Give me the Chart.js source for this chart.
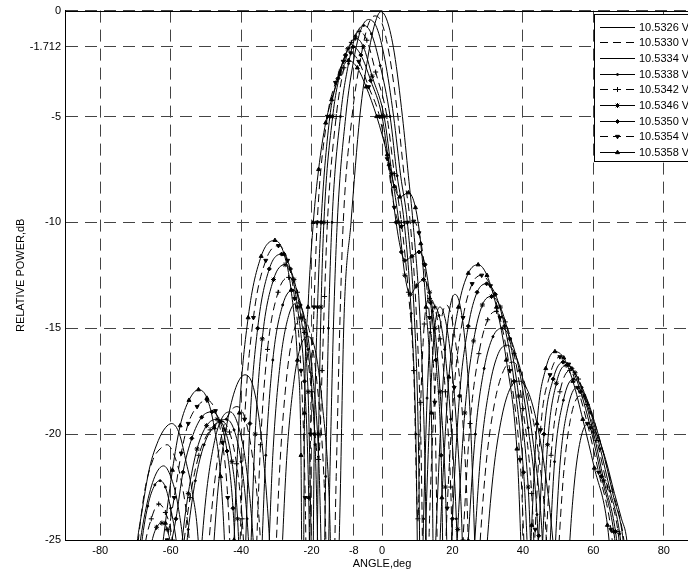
<!DOCTYPE html>
<html><head><meta charset="utf-8">
<script src="https://cdn.jsdelivr.net/npm/chart.js@4.4.1/dist/chart.umd.min.js"></script>
<style>html,body{margin:0;padding:0;overflow:hidden;background:#fff;width:688px;height:574px}canvas{display:block}</style>
</head><body>
<canvas id="c" width="712" height="574"></canvas>
<script>
const seriesLabels = ['10.5326 V','10.5330 V','10.5334 V','10.5338 V','10.5342 V','10.5346 V','10.5350 V','10.5354 V','10.5358 V'];
const xTicks = [-80,-60,-40,-20,-8,0,20,40,60,80];
const yTicks = [0,-1.712,-5,-10,-15,-20,-25];

const s1 = [[-72,-32],[-70,-26],[-68,-23.5],[-66,-21.6],[-63.5,-20.3],[-61.5,-19.7],[-59.7,-19.5],[-57.5,-20.0],[-55.5,-21.4],[-54,-22.6],[-52,-25.5],[-50.5,-32],
[-48.5,-27],[-46.5,-22.5],[-44,-19.5],[-41.5,-17.8],[-38.9,-17.2],[-36.5,-17.8],[-34.5,-19.8],[-32.5,-23.5],[-31,-28],[-30,-32],
[-28.5,-26],[-27,-21],[-25,-17.5],[-23,-15.8],[-21,-15.4],[-19,-16],[-17,-18.5],[-15,-23],[-13.5,-32],
[-12,-24],[-10.8,-14.6],[-8.8,-10],[-6.3,-5],[-4,-2.2],[-2,-0.6],[-0.3,-0.05],[1.5,-0.5],[3.5,-2.0],[5.8,-5],[7.5,-7.8],[8.8,-10],[10.8,-14.6],[12,-20],[13.5,-32],
[15.5,-24],[17,-18.5],[18.5,-15],[19.7,-13.7],[20.7,-13.4],[22,-13.8],[23.5,-15.5],[25,-19],[26.3,-25],[27.5,-32],
[29.5,-26],[31.5,-22],[34,-19.2],[36.5,-17.8],[39,-17.5],[41.5,-18],[44,-19.5],[46.5,-22],[48.5,-25],[51.5,-32],
[53,-26],[54.5,-22.5],[56.3,-20.3],[58.5,-19.5],[61,-20],[63.5,-21.2],[66,-22.8],[68,-24],[69.5,-25],[71,-28]];

const s2 = [[-72,-30],[-69.5,-25.5],[-67.5,-22.8],[-65,-21.2],[-63,-20.7],[-61,-20.5],[-59,-21],[-57,-22.2],[-55,-24.5],[-53,-29],[-52,-32],
[-50,-27],[-48,-23],[-45.5,-20],[-43.3,-19],[-41.2,-18.7],[-39,-19.2],[-37,-20.8],[-35,-23.8],[-33.5,-28],[-32,-32],
[-30.5,-27],[-29,-21.5],[-27,-17.2],[-24.8,-15],[-22.5,-14.5],[-20.5,-15.2],[-18.5,-17.5],[-16.5,-22],[-14.5,-32],
[-13,-22],[-12,-15],[-11,-10],[-8.5,-5],[-6,-2.2],[-4,-0.7],[-2,-0.25],[0,-0.6],[2.2,-2.2],[4.5,-5],[6.3,-7.8],[8,-10],[9.8,-14.5],[11,-20],[12.3,-32],
[13.5,-24],[15,-18],[16.5,-15],[17.5,-14.1],[18.3,-13.9],[19.5,-14.3],[21,-15.8],[22.8,-19],[24.3,-24],[25.5,-32],
[27.5,-26],[29.5,-21.5],[32,-18.5],[34.5,-17],[37,-16.6],[39.5,-17.1],[42,-18.6],[44.5,-21],[46.5,-24.5],[48.5,-32],
[50,-26],[51.5,-22],[53.5,-19.3],[56.2,-18.2],[58.5,-18.6],[61,-19.8],[63.5,-21.3],[66,-23],[68.5,-24.8],[70,-27]];

const s3 = [[-72,-30],[-69,-25.5],[-67,-23.5],[-64.5,-22],[-62,-21.5],[-60,-22],[-58,-23.3],[-56,-26],[-54,-32],
[-52,-27],[-50,-23],[-47.5,-20.3],[-45.3,-19.2],[-43.1,-18.95],[-41,-19.5],[-39,-21],[-37,-24],[-35.5,-28],[-34,-32],
[-32.5,-27],[-31,-21],[-29,-16.8],[-26.5,-14.4],[-24,-13.8],[-22,-14.5],[-20,-16.8],[-18,-21],[-16,-32],
[-14.8,-22],[-13.8,-15],[-12.7,-10],[-10.3,-5],[-8,-2.3],[-6,-0.9],[-3.8,-0.42],[-1.5,-0.8],[0.8,-2.3],[3.3,-5],[5.3,-7.8],[7.2,-10],[9.2,-14.5],[10.3,-20],[11.3,-32],
[12.5,-24],[13.7,-18.5],[14.8,-15.3],[15.7,-14.2],[16.5,-14],[17.7,-14.4],[19.3,-16],[21,-19.2],[22.6,-24],[24,-32],
[26,-26],[28,-21],[30.5,-17.8],[33,-16.2],[35.5,-15.8],[38,-16.3],[40.5,-17.8],[43,-20.5],[45.3,-24.3],[47.5,-32],
[49,-26],[50.5,-21.5],[52.7,-18.8],[55.3,-17.8],[57.8,-18.2],[60.3,-19.4],[63,-21],[65.8,-23],[68.3,-24.8],[70,-28]];

const s4 = [[-71,-30],[-68.5,-25.5],[-66.5,-23.4],[-64.5,-22.4],[-63,-22.2],[-61.5,-22.5],[-60,-23.5],[-58.3,-25.2],[-57,-27.5],
[-55,-24.5],[-53,-22.2],[-50.5,-20.5],[-47.5,-19.6],[-44.2,-19.3],[-42,-19.8],[-40,-21.3],[-38.3,-24],[-37,-28],[-36,-32],
[-34.5,-27],[-33,-21],[-31,-16.5],[-28.2,-13.9],[-25.3,-13.2],[-23,-13.9],[-21,-16],[-19,-20.5],[-17,-32],
[-16,-22],[-15.2,-15],[-14.2,-10],[-11.8,-5],[-9.5,-2.5],[-7.5,-1.2],[-5.2,-0.7],[-3,-1.1],[-0.5,-2.6],[2.3,-5],[4.3,-7.8],[6.3,-10],[8.3,-14.3],[9.6,-20],[10.7,-32],
[11.8,-24],[12.8,-18.3],[13.7,-15.2],[14.3,-14.2],[15,-14],[16.2,-14.4],[17.8,-16],[19.5,-19.3],[21.1,-24],[22.5,-32],
[24.5,-25],[26.5,-20],[29,-16.9],[31.5,-15.4],[34,-15],[36.5,-15.5],[39,-17],[41.5,-19.7],[44,-23.8],[46,-32],
[47.5,-26],[49,-21.3],[51.5,-18.4],[54.3,-17.4],[56.8,-17.8],[59.3,-19],[62,-20.7],[64.8,-22.7],[67.5,-24.7],[69.5,-28]];

const s5 = [[-70,-30],[-67.5,-25.5],[-65.5,-24],[-63.4,-23.3],[-61.5,-23.7],[-59.5,-25],[-58,-28],
[-56.5,-25.5],[-54.5,-23],[-52,-21],[-48.8,-19.8],[-45.5,-19.4],[-43.3,-19.9],[-41.3,-21.4],[-39.7,-24],[-38.5,-28],[-37.5,-32],
[-36,-27],[-34.5,-20.5],[-32.5,-16],[-29.5,-13.3],[-26.5,-12.6],[-24,-13.3],[-22,-15.2],[-20,-18],[-18,-21.2],
[-17,-17],[-16.3,-13.5],[-15.5,-10],[-13,-5],[-10.8,-2.7],[-8.7,-1.5],[-6.5,-0.98],[-4.3,-1.4],[-1.8,-2.9],[1.4,-5],[3.5,-7.7],[5.5,-10],[7.5,-13.3],[9,-17],[10.2,-24],
[11,-18.5],[12,-14.8],[13.5,-13.6],[15,-14],[16.5,-15.5],[18,-18],[19.5,-22.5],[21,-32],
[23,-25],[25,-19.5],[27.5,-16.2],[30,-14.6],[32.5,-14.2],[35,-14.7],[37.5,-16.2],[40,-18.8],[42.5,-22.8],[45,-32],
[46.5,-25.5],[48,-21],[50.5,-18],[53.3,-17],[55.8,-17.4],[58.3,-18.6],[61,-20.3],[64,-22.5],[67,-24.6],[69,-28]];

const s6 = [[-68,-28],[-65.5,-25.2],[-64,-24.4],[-62.5,-24.2],[-61,-24.5],[-59.5,-26],[-58.5,-29],
[-57,-25.5],[-55,-22.8],[-52.5,-20.7],[-49.8,-19.6],[-46.8,-19.3],[-44.6,-19.8],[-42.6,-21.3],[-41,-24],[-40,-28],[-39,-32],
[-37.5,-26.5],[-36,-20],[-34,-15.5],[-30.8,-12.7],[-27.5,-12],[-25,-12.7],[-23,-14.5],[-21,-18],[-19,-32],
[-18,-20],[-17.3,-14],[-16.5,-10],[-14,-5],[-11.8,-2.9],[-9.7,-1.8],[-7.5,-1.3],[-5.3,-1.7],[-2.8,-3.1],[0.6,-5],[2.8,-7.7],[4.8,-10],[6.5,-12.5],[8,-13.4],[9.8,-13],[11.8,-12.7],[13.5,-13.3],[15,-15],[16.5,-18],[18,-22.5],[19.5,-32],
[21.5,-24.5],[23.5,-19],[26,-15.6],[28.5,-13.9],[31.1,-13.5],[33.6,-14],[36.2,-15.5],[38.8,-18.2],[41.5,-22.5],[44,-32],
[45.5,-25.5],[47,-20.5],[49.5,-17.6],[52.3,-16.75],[54.8,-17.1],[57.3,-18.2],[60,-19.9],[63,-22.2],[66.3,-24.6],[68.5,-28]];

const s7 = [[-66,-32],[-62.5,-27.5],[-60,-25.3],
[-58.5,-24],[-56.5,-21.8],[-54,-20.2],[-51.2,-19.2],[-48.3,-18.95],[-46,-19.4],[-44,-20.8],[-42.3,-23.5],[-41.3,-27],[-40.5,-32],
[-39,-26.5],[-37.5,-19.5],[-35.3,-15],[-32,-12.2],[-28.5,-11.5],[-26,-12.2],[-24,-14],[-22,-17.5],[-20.8,-23],[-20,-32],
[-19.2,-20],[-18.3,-14],[-17.3,-10],[-14.8,-5],[-12.5,-3.2],[-10.4,-2.1],[-8.2,-1.71],[-6,-2.1],[-3.2,-3.3],[0,-5],[2,-7.3],[4,-10],[5.5,-11.4],[6.5,-11.8],[8.5,-11.6],[10.5,-11.4],[12.2,-12],[13.8,-13.8],[15.3,-16.5],[16.8,-21],[18,-32],
[20,-24],[22,-18.2],[24.5,-14.9],[27,-13.3],[29.7,-12.9],[32.2,-13.4],[34.8,-14.9],[37.5,-17.5],[40.2,-21.8],[43,-30],
[44.5,-24.8],[46,-20],[48.6,-17.4],[51.4,-16.6],[53.9,-16.9],[56.4,-18],[59.2,-19.7],[62.3,-22],[65.8,-24.6],[68,-28]];

const s8 = [[-66,-32],[-63,-27],[-61,-25],[-59,-23],[-57,-20.9],[-55,-19.5],[-52.5,-18.7],[-49.7,-18.4],[-47.3,-18.9],[-45.3,-20.4],[-43.8,-23],[-42.8,-27],[-42,-32],
[-40.5,-26],[-39,-19.3],[-36.5,-14.5],[-33,-11.8],[-29.4,-11.1],[-26.8,-11.8],[-24.8,-13.6],[-23,-17],[-21.8,-23],[-21,-32],
[-20.3,-20],[-19.3,-14],[-18.4,-10],[-15.5,-5],[-13.2,-3.4],[-11,-2.4],[-8.9,-2.0],[-6.6,-2.4],[-3.8,-3.6],[-0.7,-5],[1.5,-7],[3.5,-9.3],[5.5,-10.2],[7.2,-10],[9,-9.95],[10.5,-10.5],[12,-12],[13.5,-14.5],[15,-18.5],[16.5,-32],
[18.5,-23.5],[20.5,-17.8],[23,-14.5],[25.6,-12.9],[28.3,-12.5],[30.8,-13],[33.5,-14.5],[36.3,-17],[39.2,-21.2],[42,-30],
[43.5,-24.5],[45,-19.8],[47.7,-17.2],[50.5,-16.35],[53,-16.7],[55.5,-17.8],[58.3,-19.5],[61.5,-21.8],[65,-24.5],[67,-28]];

const s9 = [[-66,-32],[-63.5,-27],[-61.5,-24.2],[-59.5,-21.7],[-57.3,-19.6],[-54.8,-18.4],[-52.1,-17.9],[-49.7,-18.3],[-47.6,-19.7],[-45.8,-22],[-44.5,-26],[-43.5,-32],
[-42,-25],[-40.5,-19],[-38,-14.5],[-34.3,-11.6],[-30.4,-10.85],[-27.8,-11.5],[-25.8,-13.2],[-24,-16.5],[-23,-21],[-22.5,-32],
[-22,-19],[-21,-14],[-19.5,-10],[-18,-7.5],[-16,-5.3],[-14.3,-4.2],[-12,-3.0],[-9.5,-2.35],[-7,-2.7],[-4.5,-3.6],[-1.5,-5],[1.5,-6.8],[3.5,-8.3],[5,-8.8],[7.5,-8.6],[9.5,-9.3],[11,-11],[12.5,-14],[14,-19],[15,-30],
[17,-23],[19,-17.3],[21.7,-14],[24.5,-12.4],[27.3,-12],[29.8,-12.5],[32.5,-14],[35.3,-16.5],[38.3,-20.7],[41,-30],
[42.5,-24.3],[44,-19.5],[46.5,-16.9],[49.1,-16.1],[51.6,-16.4],[54.2,-17.5],[57,-19.3],[60.3,-21.6],[64,-24.3],[66,-28]];

const FONT = '"Liberation Sans", Arial, sans-serif';
const toXY = a => a.map(p => ({x: p[0], y: p[1]}));

function mk(i, data, dash, style, radius, fill, rot) {
  return {
    label: seriesLabels[i], data: toXY(data),
    borderColor: '#000', borderWidth: 1, borderDash: dash,
    pointStyle: style || 'circle', pointRadius: radius || 0, pointRotation: rot || 0,
    pointBackgroundColor: fill ? '#000' : 'rgba(0,0,0,0)', pointBorderColor: '#000', pointBorderWidth: 1,
    pointHoverRadius: 0, fill: false, cubicInterpolationMode: 'monotone'
  };
}

const datasets = [
  mk(0, s1, [], null, 0),
  mk(1, s2, [8,5], null, 0),
  mk(2, s3, [], null, 0),
  mk(3, s4, [], 'circle', 1, true),
  mk(4, s5, [8,5], 'cross', 2.5, false),
  mk(5, s6, [], 'star', 2.5, false),
  mk(6, s7, [], 'rectRot', 2, true),
  mk(7, s8, [8,5], 'triangle', 2.3, true, 180),
  mk(8, s9, [], 'triangle', 2.3, true)
];

const framePlugin = {
  id: 'frameAndLegend',
  afterDraw(chart) {
    const ctx = chart.ctx, a = chart.chartArea;
    ctx.save();
    ctx.setLineDash([]);
    ctx.strokeStyle = '#000'; ctx.lineWidth = 1;
    ctx.strokeRect(Math.round(a.left) + 0.5, Math.round(a.top) + 0.5, Math.round(a.right - a.left), Math.round(a.bottom - a.top));
    const x0 = 594, y0 = 14, w = 130, h = 147;
    ctx.fillStyle = '#fff'; ctx.fillRect(x0, y0, w, h);
    ctx.strokeRect(x0 + 0.5, y0 + 0.5, w, h);
    chart.data.datasets.forEach((ds, i) => {
      const y = Math.round(26.7 + i * 15.67) + 0.5;
      ctx.strokeStyle = '#000'; ctx.lineWidth = 1;
      ctx.setLineDash(ds.borderDash || []);
      ctx.beginPath(); ctx.moveTo(600, y); ctx.lineTo(635, y); ctx.stroke();
      ctx.setLineDash([]);
      if (ds.pointRadius > 0) {
        ctx.fillStyle = ds.pointBackgroundColor;
        Chart.helpers.drawPoint(ctx, {pointStyle: ds.pointStyle, rotation: ds.pointRotation, radius: ds.pointRadius, borderWidth: 1}, 617.5, y);
      }
      ctx.fillStyle = '#000'; ctx.font = '11px ' + FONT; ctx.textBaseline = 'middle'; ctx.textAlign = 'left';
      ctx.fillText(ds.label, 639, y);
    });
    ctx.restore();
  }
};

new Chart(document.getElementById('c'), {
  type: 'line',
  data: {datasets},
  options: {
    responsive: false, animation: false, devicePixelRatio: 1,
    layout: {padding: {left: 0, top: 10, right: 13, bottom: 0}},
    plugins: {legend: {display: false}, tooltip: {enabled: false}},
    scales: {
      x: {
        type: 'linear', min: -90, max: 90,
        afterBuildTicks: s => { s.ticks = xTicks.map(v => ({value: v})); },
        afterFit: s => { s.height = 34; },
        ticks: {autoSkip: false, maxRotation: 0, padding: 4, color: '#000', font: {size: 11, family: FONT}, callback: v => String(v)},
        grid: {color: '#444', lineWidth: 1, drawTicks: false},
        border: {display: true, color: '#000', width: 1, dash: [12, 7]},
        title: {display: true, text: 'ANGLE,deg', color: '#000', font: {size: 11, family: FONT}, padding: {top: 0, bottom: 3}}
      },
      y: {
        type: 'linear', min: -25, max: 0,
        afterBuildTicks: s => { s.ticks = yTicks.map(v => ({value: v})); },
        afterFit: s => { s.width = 65; },
        ticks: {autoSkip: false, padding: 4, color: '#000', font: {size: 11, family: FONT}, callback: v => String(v)},
        grid: {color: '#444', lineWidth: 1, drawTicks: false},
        border: {display: true, color: '#000', width: 1, dash: [12, 7]},
        title: {display: true, text: 'RELATIVE POWER,dB', color: '#000', font: {size: 11, family: FONT}, padding: {top: 14, bottom: 0}}
      }
    }
  },
  plugins: [framePlugin]
});
</script></body></html>
